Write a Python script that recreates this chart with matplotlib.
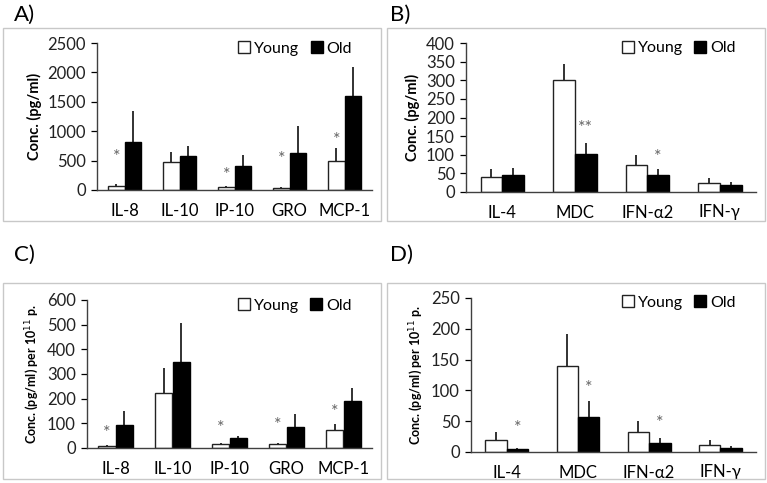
import matplotlib
matplotlib.use("Agg")
import matplotlib.pyplot as plt
from matplotlib.patches import Rectangle
import numpy as np

plt.rcParams['font.family'] = ['Lato', 'DejaVu Sans']

# ---- data ----
cats_ac = ["IL-8", "IL-10", "IP-10", "GRO", "MCP-1"]
cats_bd = ["IL-4", "MDC", "IFN-\u03b12", "IFN-\u03b3"]

a_young = [60, 470, 50, 30, 500]
a_young_err = [40, 180, 20, 15, 220]
a_old = [820, 580, 400, 630, 1600]
a_old_err = [520, 160, 200, 450, 500]
a_star_young = [560, None, 255, 530, 850]
a_star_old = [None, None, None, None, None]

b_young = [40, 302, 73, 25]
b_young_err = [22, 41, 27, 13]
b_old = [45, 103, 45, 20]
b_old_err = [20, 29, 18, 8]
b_star_young = [None, None, None, None]
b_star_old = [None, 172, 94, None]
b_star_old_txt = ["", "**", "*", ""]

c_young = [8, 222, 17, 15, 75]
c_young_err = [4, 103, 5, 7, 22]
c_old = [95, 350, 40, 85, 190]
c_old_err = [55, 155, 8, 52, 55]
c_star_young = [61, None, 81, 93, 146]
c_star_old = [None, None, None, None, None]

d_young = [20, 140, 33, 11]
d_young_err = [12, 52, 17, 8]
d_old = [5, 57, 15, 6]
d_old_err = [2, 25, 7, 4]
d_star_young = [None, None, None, None]
d_star_old = [39, 104, 47, None]

W, H = 767, 483
fig = plt.figure(figsize=(W/100, H/100), dpi=100)

def ax_px(x0, x1, ytop, ybot):
    return fig.add_axes([x0/W, 1-ybot/H, (x1-x0)/W, (ybot-ytop)/H])

def frame(x0, y0, x1, y1):
    fig.patches.append(Rectangle((x0/W, 1-y1/H), (x1-x0)/W, (y1-y0)/H,
                                 transform=fig.transFigure, fill=False,
                                 edgecolor='#c8c8c8', linewidth=1.0))

def panel(ax, cats, young, yerr, old, oerr, ystar, ostar, ymax, ystep, ylabel,
          ylsize, otxt=None):
    x = np.arange(len(cats))
    w = 0.3
    ax.bar(x - w/2, young, w, color='white', edgecolor='#222222', linewidth=1.0,
           label='Young', zorder=2)
    ax.bar(x + w/2, old, w, color='black', edgecolor='black', linewidth=1.0,
           label='Old', zorder=2)
    ax.errorbar(x - w/2, young, yerr=[np.zeros(len(x)), yerr], fmt='none',
                ecolor='#222222', elinewidth=1.3, capsize=0, zorder=1)
    ax.errorbar(x + w/2, old, yerr=[np.zeros(len(x)), oerr], fmt='none',
                ecolor='#222222', elinewidth=1.3, capsize=0, zorder=1)
    for i in range(len(x)):
        if ystar[i] is not None:
            ax.text(x[i] - w/2, ystar[i], "*", ha='center', va='center',
                    fontsize=13, color='#666666')
        if ostar[i] is not None:
            t = otxt[i] if otxt else "*"
            ax.text(x[i] + w/2, ostar[i], t, ha='center', va='center',
                    fontsize=13, color='#666666')
    ax.set_xlim(-0.5, len(cats) - 0.5)
    ax.set_ylim(0, ymax)
    ax.set_yticks(np.arange(0, ymax + 1, ystep))
    ax.set_xticks(x)
    ax.set_xticklabels(cats, fontsize=12)
    ax.tick_params(axis='x', length=0, pad=9)
    ax.tick_params(axis='y', labelsize=12, length=4, width=0.9, direction='out',
                   pad=4, labelcolor='#222222')
    for s in ['top', 'right']:
        ax.spines[s].set_visible(False)
    for s in ['left', 'bottom']:
        ax.spines[s].set_color('#404040')
        ax.spines[s].set_linewidth(1.0)
    ax.set_ylabel(ylabel, fontsize=ylsize, fontweight='bold')
    ax.patch.set_alpha(0)
    ax.legend(loc='upper right', bbox_to_anchor=(0.98, 1.11), ncol=2,
              frameon=False, fontsize=11.5, handlelength=0.75, handleheight=0.75,
              handletextpad=0.25, columnspacing=0.7)

frame(3, 28, 381, 221)
frame(387, 28, 765, 221)
frame(3, 283, 381, 479)
frame(387, 283, 765, 479)

axA = ax_px(97, 372, 43, 190)
panel(axA, cats_ac, a_young, a_young_err, a_old, a_old_err, a_star_young, a_star_old,
      2500, 500, "Conc. (pg/ml)", 10.5)
axB = ax_px(466, 756, 43, 192)
panel(axB, cats_bd, b_young, b_young_err, b_old, b_old_err, b_star_young, b_star_old,
      400, 50, "Conc. (pg/ml)", 10.5, otxt=b_star_old_txt)
axC = ax_px(87, 372, 300, 448)
panel(axC, cats_ac, c_young, c_young_err, c_old, c_old_err, c_star_young, c_star_old,
      600, 100, "Conc. (pg/ml) per 10$^{11}$ p.", 9)
axD = ax_px(471, 756, 298, 452)
panel(axD, cats_bd, d_young, d_young_err, d_old, d_old_err, d_star_young, d_star_old,
      250, 50, "Conc. (pg/ml) per 10$^{11}$ p.", 9)

for lbl, x, y in [("A)", 14, 15), ("B)", 390, 15), ("C)", 14, 255), ("D)", 390, 255)]:
    fig.text(x/W, 1-y/H, lbl, fontsize=16, ha='left', va='center')

fig.savefig("out.png", dpi=100)
